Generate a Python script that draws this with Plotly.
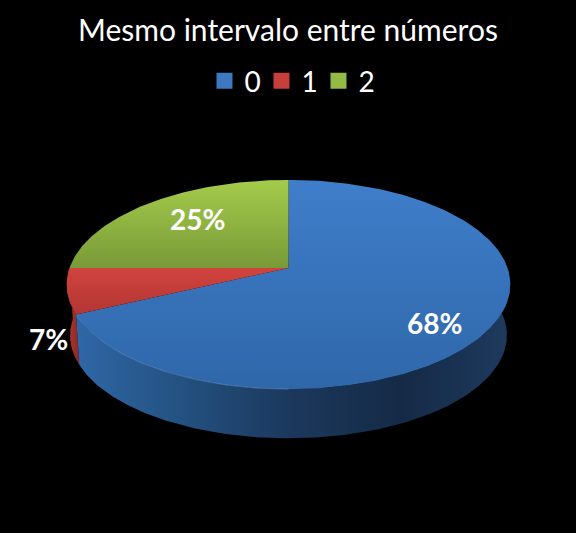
""" Excel style 3D pie: Mesmo intervalo entre numeros"""

import numpy as np
import plotly.graph_objects as go

title = "Mesmo intervalo entre números"
categories = ["0", "1", "2"]
values = [68, 7, 25]

swatch_colors = ["#3d78c0", "#c63f3b", "#95b945"]
top_colors = [("#3f7ecb", "#2f67a9"), ("#d2433f", "#b23632"), ("#a5cb4b", "#789a38")]
side_colors = [
    ["#2f67a7", "#23507f", "#1b385c", "#152a46", "#1e3a5e"],
    ["#b53632", "#8a2825"],
]

# projection of the pie, in pixels of the 576x533 picture
cx, cy = 288.5, 268
rx, ry = 219, 102
persp = 0.158
depth = 51
bottom_scale = 0.985


def rim(start, stop, lower=False):
    # angles run clockwise from 12 o'clock, as fractions of the whole pie
    n = max(int((stop - start) * 360), 2)
    t = np.linspace(start, stop, n) * 2 * np.pi
    w = 1 + persp * np.cos(t)
    x = rx * np.sin(t) / w
    y = -ry * np.cos(t) / w
    if lower:
        return cx + x * bottom_scale, cy + y * bottom_scale + depth
    return cx + x, cy + y


def scale(colors):
    return [[i / (len(colors) - 1), c] for i, c in enumerate(colors)]


fig = go.Figure()

fractions = np.array(values) / sum(values)
stops = np.concatenate([[0], np.cumsum(fractions)])

# side walls first, the top faces cover whatever is behind
for i in [1, 0]:
    start, stop = stops[i], stops[i + 1]
    if i == 0:
        start = 0.2  # wall behind the right tangent is hidden anyway
    x1, y1 = rim(start, stop)
    x2, y2 = rim(start, stop, lower=True)
    fig.add_trace(
        go.Scatter(
            x=np.concatenate([x1, x2[::-1]]),
            y=np.concatenate([y1, y2[::-1]]),
            mode="lines",
            line=dict(width=0),
            fill="toself",
            fillgradient=dict(type="horizontal", colorscale=scale(side_colors[i])),
            hoverinfo="skip",
            showlegend=False,
        )
    )

for i in range(len(values)):
    x, y = rim(stops[i], stops[i + 1])
    fig.add_trace(
        go.Scatter(
            x=np.concatenate([[cx], x, [cx]]),
            y=np.concatenate([[cy], y, [cy]]),
            mode="lines",
            line=dict(width=0),
            fill="toself",
            fillgradient=dict(
                type="vertical",
                colorscale=[[0, top_colors[i][1]], [1, top_colors[i][0]]],
            ),
            name=categories[i],
            showlegend=False,
        )
    )

# light edge along the front of the blue slice
x, y = rim(0.5, stops[1])
fig.add_trace(
    go.Scatter(
        x=x,
        y=y,
        mode="lines",
        line=dict(color="rgba(130,175,235,0.4)", width=1),
        hoverinfo="skip",
        showlegend=False,
    )
)

for name, color in zip(categories, swatch_colors):
    fig.add_trace(
        go.Scatter(
            x=[None],
            y=[None],
            mode="markers",
            marker=dict(symbol="square", size=16, color=color),
            name=name,
        )
    )

labels = [f"{v}%" for v in values]
label_x = [434, 48, 197]
label_y = [323, 339, 219]
for text, lx, ly in zip(labels, label_x, label_y):
    fig.add_annotation(
        x=lx,
        y=ly,
        text=f"<b>{text}</b>",
        showarrow=False,
        font=dict(family="Lato", size=28, color="white"),
    )

fig.update_layout(
    width=576,
    height=533,
    margin=dict(l=0, r=0, t=0, b=0),
    paper_bgcolor="black",
    plot_bgcolor="black",
    font=dict(family="Lato", color="white"),
    title=dict(
        text=title,
        x=0.5,
        xanchor="center",
        y=1 - 30 / 533,
        yanchor="middle",
        font=dict(family="Lato", size=30, color="white"),
    ),
    legend=dict(
        orientation="h",
        x=0.355,
        xanchor="left",
        y=1 - 81 / 533,
        yanchor="middle",
        entrywidth=12,
        entrywidthmode="pixels",
        font=dict(family="Lato", size=28, color="white"),
        bgcolor="rgba(0,0,0,0)",
    ),
    xaxis=dict(range=[0, 576], visible=False, fixedrange=True),
    yaxis=dict(range=[533, 0], visible=False, fixedrange=True),
)

fig.write_html(
    "out.html",
    config={"displayModeBar": False},
    post_script="document.body.style.margin='0';document.body.style.background='black';",
)
